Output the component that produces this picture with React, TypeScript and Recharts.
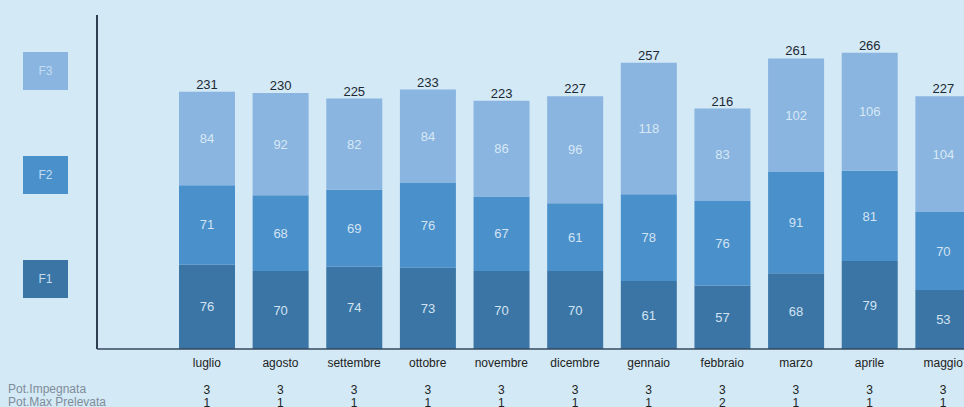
import React from "react";
import { BarChart, Bar, XAxis, YAxis, LabelList } from "recharts";

const months = ["luglio", "agosto", "settembre", "ottobre", "novembre", "dicembre", "gennaio", "febbraio", "marzo", "aprile", "maggio"];
const f1 = [76, 70, 74, 73, 70, 70, 61, 57, 68, 79, 53];
const f2 = [71, 68, 69, 76, 67, 61, 78, 76, 91, 81, 70];
const f3 = [84, 92, 82, 84, 86, 96, 118, 83, 102, 106, 104];
const potImpegnata = [3, 3, 3, 3, 3, 3, 3, 3, 3, 3, 3];
const potMaxPrelevata = [1, 1, 1, 1, 1, 1, 1, 2, 1, 1, 1];
const rowLabels = ["Pot.Impegnata", "Pot.Max Prelevata"];
const seriesKeys = ["F3", "F2", "F1"];

const data = months.map((m, i) => ({
  month: m,
  F1: f1[i],
  F2: f2[i],
  F3: f3[i],
  total: f1[i] + f2[i] + f3[i],
  imp: potImpegnata[i],
  max: potMaxPrelevata[i],
}));

const COLORS: Record<string, string> = { F1: "#3a75a5", F2: "#4a90cb", F3: "#89b5e0" };
const BG = "#d3e9f5";
const FONT = "'Liberation Sans', Arial, sans-serif";

const MonthTick = (props: any) => {
  const { x, payload, index } = props;
  const d = data[index] || data.find((r) => r.month === payload.value);
  return (
    <g>
      {index === 0 && (
        <g>
          <text x={8} y={393} fontSize={12} fill="#7f8c99" fontFamily={FONT}>{rowLabels[0]}</text>
          <text x={8} y={406} fontSize={12} fill="#7f8c99" fontFamily={FONT}>{rowLabels[1]}</text>
        </g>
      )}
      <text x={x} y={367} textAnchor="middle" fontSize={12} fill="#222" fontFamily={FONT}>{payload.value}</text>
      <text x={x} y={394} textAnchor="middle" fontSize={12} fill="#222" fontFamily={FONT}>{d ? d.imp : ""}</text>
      <text x={x} y={407} textAnchor="middle" fontSize={12} fill="#222" fontFamily={FONT}>{d ? d.max : ""}</text>
    </g>
  );
};

const legendTops = [52, 156, 260];

export default function App() {
  return (
    <div style={{ position: "fixed", left: 0, top: 0, width: 964, height: 407, overflow: "hidden", background: BG }}>
      <BarChart
        width={980}
        height={407}
        data={data}
        margin={{ top: 15, right: 0, bottom: 0, left: 95 }}
        barSize={56}
        style={{ fontFamily: FONT }}
      >
        <YAxis domain={[0, 300]} width={2} tick={false} tickLine={false} axisLine={{ stroke: "#2c3e50", strokeWidth: 2 }} />
        <XAxis
          dataKey="month"
          height={58}
          tickLine={false}
          interval={0}
          padding={{ left: 73, right: 0 }}
          axisLine={{ stroke: "#34495e", strokeWidth: 1.5 }}
          tick={<MonthTick />}
        />
        <Bar dataKey="F1" stackId="a" fill={COLORS.F1} isAnimationActive={false}>
          <LabelList dataKey="F1" position="center" fill="#d2e3f2" fontSize={13} fontFamily={FONT} />
        </Bar>
        <Bar dataKey="F2" stackId="a" fill={COLORS.F2} isAnimationActive={false}>
          <LabelList dataKey="F2" position="center" fill="#d2e3f2" fontSize={13} fontFamily={FONT} />
        </Bar>
        <Bar dataKey="F3" stackId="a" fill={COLORS.F3} isAnimationActive={false}>
          <LabelList dataKey="F3" position="center" fill="#d8e8f5" fontSize={13} fontFamily={FONT} />
          <LabelList dataKey="total" position="top" offset={3} fill="#1c2833" fontSize={13} fontFamily={FONT} />
        </Bar>
      </BarChart>
      {seriesKeys.map((k, i) => (
        <div
          key={k}
          style={{
            position: "absolute",
            left: 23,
            top: legendTops[i],
            width: 45,
            height: 38,
            background: COLORS[k],
            color: "#c4dcf0",
            fontSize: 12,
            fontFamily: FONT,
            display: "flex",
            alignItems: "center",
            justifyContent: "center",
          }}
        >
          {k}
        </div>
      ))}
    </div>
  );
}
